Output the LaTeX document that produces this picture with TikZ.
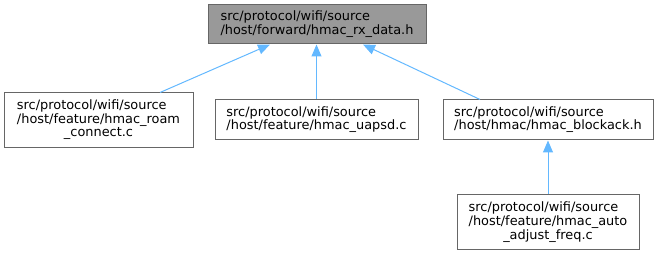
\documentclass[tikz,border=0pt]{standalone}
\usepackage{fontspec}
\setmainfont{DejaVu Sans}
\usetikzlibrary{arrows.meta}
\definecolor{edgeblue}{HTML}{63B8FF}
\definecolor{boxgray}{HTML}{666666}
\definecolor{topfill}{HTML}{999999}
% left-aligned lines, last line centred
\newcommand{\filelabel}[2]{\begin{tabular}{@{}l@{}}#1\\\multicolumn{1}{@{}c@{}}{#2}\end{tabular}}
\begin{document}
\begin{tikzpicture}[x=1pt,y=-1pt,
        file/.style={draw=boxgray, line width=1pt, fill=white, inner sep=0pt,
            font=\fontsize{12.9}{13.3}\selectfont},
        dep/.style={edgeblue, line width=1pt, {Triangle[length=12pt,width=10pt]}-}]
        \useasboundingbox (0,0) rectangle (659,256);
        % files
            \node[file, fill=topfill, minimum width=218pt, minimum height=39pt] (rxdata) at (317,24.5)
                {\filelabel{src/protocol/wifi/source}{/host/forward/hmac\_rx\_data.h}};
            \node[file, minimum width=189pt, minimum height=55pt] (roam) at (98.5,120.5)
                {\filelabel{src/protocol/wifi/source\\/host/feature/hmac\_roam}{\_connect.c}};
            \node[file, minimum width=203pt, minimum height=40pt] (uapsd) at (316.5,120)
                {\filelabel{src/protocol/wifi/source}{/host/feature/hmac\_uapsd.c}};
            \node[file, minimum width=210pt, minimum height=40pt] (blockack) at (548,120)
                {\filelabel{src/protocol/wifi/source}{/host/hmac/hmac\_blockack.h}};
            \node[file, minimum width=182pt, minimum height=55pt] (autofreq) at (548,222.5)
                {\filelabel{src/protocol/wifi/source\\/host/feature/hmac\_auto}{\_adjust\_freq.c}};
        % includes
            \draw[dep] ([xshift=-47pt]rxdata.south) -- ([xshift=61.5pt]roam.north);
            \draw[dep] (rxdata.south -| uapsd.north) -- (uapsd.north);
            \draw[dep] ([xshift=46pt]rxdata.south) -- ([xshift=-68pt]blockack.north);
            \draw[dep] (blockack) -- (autofreq);
        \end{tikzpicture}
\end{document}
